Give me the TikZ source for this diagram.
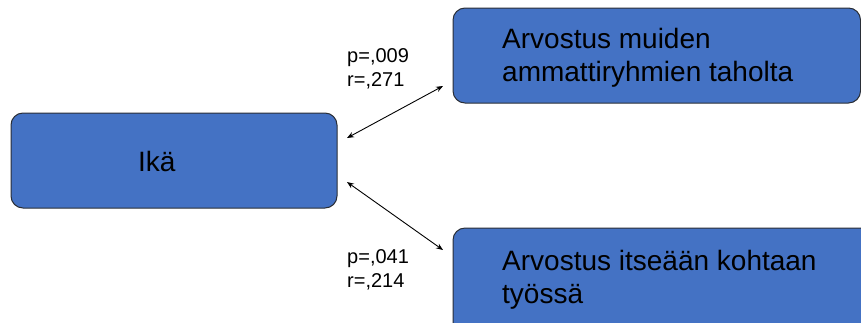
\documentclass[tikz,border=0pt]{standalone}
\usepackage{fontspec}
\setmainfont{Liberation Sans}
\usetikzlibrary{arrows.meta}

\definecolor{boxblue}{HTML}{4472C4}
\definecolor{boxedge}{HTML}{2A2E36}

\tikzset{
  bluebox/.style={draw=boxedge, fill=boxblue, line width=1pt, rounded corners=12pt},
  boxtext/.style={inner sep=0pt, align=left, font=\fontsize{28}{33}\selectfont},
  stattext/.style={inner sep=0pt, align=left, font=\fontsize{20}{24}\selectfont},
  link/.style={line width=0.9pt, {Stealth[length=7pt,width=5.5pt]}-{Stealth[length=7pt,width=5.5pt]}}
}

\begin{document}
\begin{tikzpicture}[x=1pt, y=-1pt]
  \useasboundingbox (0,0) rectangle (861,322);
  \clip (0,0) rectangle (861,322);

  % boxes
  \draw[bluebox] (11,113) rectangle (337,208);
  \node[inner sep=0pt, minimum width=326pt, minimum height=95pt] (ika) at (174,160.5) {};

  \draw[bluebox] (453,8) rectangle (860.5,103);
  \node[inner sep=0pt, minimum width=407.5pt, minimum height=95pt] (muut) at (656.75,55.5) {};

  \draw[bluebox] (453,228) rectangle (900,360);
  \node[inner sep=0pt, minimum width=447pt, minimum height=132pt] (itse) at (676.5,294) {};

  % box texts
  \node[boxtext, anchor=base west] (ikatext) at (138,171) {Ikä};
  \node[boxtext, anchor=north west] (muuttext) at (502,27.6) {Arvostus muiden\\ammattiryhmien taholta};
  \node[boxtext, anchor=north west] (itsetext) at (502,249.6) {Arvostus itseään kohtaan\\työssä};

  % statistics
  \node[stattext, anchor=north west] (stat1) at (347,48.7) {p=,009\\r=,271};
  \node[stattext, anchor=north west] (stat2) at (347,249.7) {p=,041\\r=,214};

  % double-headed connectors between the boxes
  \coordinate (a1) at (347,138);
  \coordinate (b1) at (443,86);
  \coordinate (a2) at (347,182);
  \coordinate (b2) at (443,250);
  \draw[link] (a1) -- (b1);
  \draw[link] (a2) -- (b2);
\end{tikzpicture}
\end{document}
